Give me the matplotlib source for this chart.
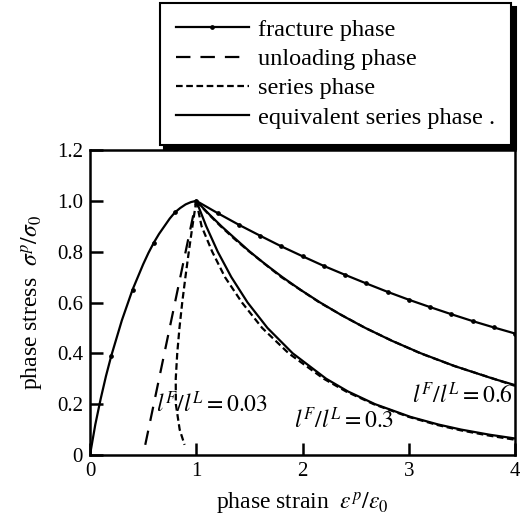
import matplotlib
matplotlib.use("Agg")
import matplotlib.pyplot as plt
from matplotlib.lines import Line2D

plt.rcParams['font.family'] = ['Liberation Serif', 'DejaVu Serif']
plt.rcParams['mathtext.fontset'] = 'stix'

# ---- data ----
rise_x = [0, 0.05, 0.1, 0.15, 0.2, 0.25, 0.3, 0.35, 0.4, 0.45, 0.5, 0.55, 0.6,
          0.65, 0.7, 0.75, 0.8, 0.85, 0.9, 0.95]
rise_y = [0, 0.12, 0.22, 0.31, 0.39, 0.46, 0.53, 0.59, 0.65, 0.70, 0.75, 0.795,
          0.835, 0.87, 0.90, 0.93, 0.955, 0.972, 0.986, 0.995]
soft_x = [1.0, 1.2, 1.4, 1.6, 1.8, 2.0, 2.2, 2.4, 2.6, 2.8, 3.0, 3.2, 3.4, 3.6,
          3.8, 4.0]
soft_y = [1.0, 0.952, 0.906, 0.863, 0.821, 0.782, 0.744, 0.709, 0.675, 0.642,
          0.611, 0.582, 0.554, 0.527, 0.502, 0.478]
frac_x = rise_x + soft_x
frac_y = rise_y + soft_y
frac_mark_x = [0.2, 0.4, 0.6, 0.8, 1.0, 1.2, 1.4, 1.6, 1.8, 2.0, 2.2, 2.4, 2.6,
               2.8, 3.0, 3.2, 3.4, 3.6, 3.8, 4.0]

unload_x = [0.52, 1.0]
unload_y = [0.04, 1.0]

ser003_x = [1.0, 0.964, 0.930, 0.898, 0.868, 0.842, 0.821, 0.807, 0.808, 0.844, 0.89]
ser003_y = [1.0, 0.9, 0.8, 0.7, 0.6, 0.5, 0.4, 0.3, 0.2, 0.1, 0.04]

eq06_x = [1.0, 1.115, 1.237, 1.37, 1.504, 1.652, 1.81, 1.981, 2.166, 2.368, 2.591,
          2.838, 3.115, 3.431, 3.796, 4.0]
eq06_y = [1.0, 0.95, 0.9, 0.85, 0.8, 0.75, 0.7, 0.65, 0.6, 0.55, 0.5,
          0.45, 0.4, 0.35, 0.3, 0.275]
ser06_x = [1.0, 1.11, 1.23, 1.36, 1.50, 1.65, 1.80, 1.98, 2.16, 2.37, 2.59,
           2.84, 3.11, 3.43, 3.80, 4.0]
ser06_y = [1.0, 0.95, 0.9, 0.85, 0.8, 0.75, 0.7, 0.65, 0.6, 0.55, 0.5,
           0.45, 0.4, 0.35, 0.3, 0.272]

eq03_x = [1.0, 1.094, 1.202, 1.33, 1.483, 1.67, 1.908, 2.223, 2.428, 2.683,
          3.016, 3.278, 3.493, 3.758, 4.0]
eq03_y = [1.0, 0.9, 0.8, 0.7, 0.6, 0.5, 0.4, 0.3, 0.25, 0.2,
          0.15, 0.12, 0.1, 0.08, 0.065]
ser03_x = [1.0, 1.05, 1.15, 1.27, 1.43, 1.62, 1.87, 2.20, 2.41, 2.67,
           3.0, 3.27, 3.49, 3.76, 4.0]
ser03_y = [1.0, 0.9, 0.8, 0.7, 0.6, 0.5, 0.4, 0.3, 0.25, 0.2,
           0.15, 0.118, 0.097, 0.076, 0.06]

xticks = [0, 1, 2, 3, 4]
xticklabels = ['0', '1', '2', '3', '4']
yticks = [0, 0.2, 0.4, 0.6, 0.8, 1.0, 1.2]
yticklabels = ['0', '0.2', '0.4', '0.6', '0.8', '1.0', '1.2']

legend_labels = ['fracture phase', 'unloading phase', 'series phase',
                 'equivalent series phase .']
ratio_labels = [r'$l^F/l^L = 0.03$', r'$l^F/l^L = 0.3$', r'$l^F/l^L = 0.6$']

# ---- figure ----
W, H = 520, 526
fig = plt.figure(figsize=(W / 100, H / 100), dpi=100)
ax = fig.add_axes([90 / W, 1 - 455 / H, 425 / W, 305 / H])

lw = 1.6
short_dash = (0, (3.0, 1.6))
long_dash = (0, (6.5, 4.5))

ax.plot(frac_x, frac_y, color='black', lw=lw, zorder=3)
mark_y = [frac_y[frac_x.index(x)] for x in frac_mark_x]
ax.plot(frac_mark_x, mark_y, ls='none', marker='o', ms=2.4, color='black', zorder=4)

ax.plot(unload_x, unload_y, color='black', lw=lw, ls=long_dash)
ax.plot(ser003_x, ser003_y, color='black', lw=lw, ls=short_dash)

ax.plot(eq06_x, eq06_y, color='black', lw=lw)
ax.plot(ser06_x, ser06_y, color='black', lw=lw, ls=short_dash)
ax.plot(eq03_x, eq03_y, color='black', lw=lw)
ax.plot(ser03_x, ser03_y, color='black', lw=lw, ls=short_dash)

ax.text(0.62, 0.2, ratio_labels[0], fontsize=17, va='center', ha='left')
ax.text(1.92, 0.137, ratio_labels[1], fontsize=17, va='center', ha='left')
ax.text(3.03, 0.235, ratio_labels[2], fontsize=17, va='center', ha='left')

ax.set_xlim(0, 4)
ax.set_ylim(0, 1.2)
ax.set_xticks(xticks)
ax.set_xticklabels(xticklabels)
ax.set_yticks(yticks)
ax.set_yticklabels(yticklabels)
ax.tick_params(direction='in', length=9, width=1.8, labelsize=15, pad=5)
for s in ax.spines.values():
    s.set_linewidth(1.8)

ax.set_xlabel(r'phase strain  $\varepsilon^p/\varepsilon_0$', fontsize=17, labelpad=7)
ax.set_ylabel(r'phase stress  $\sigma^p/\sigma_0$', fontsize=17, labelpad=8)

handles = [
    Line2D([0, 0.5, 1], [0, 0, 0], color='black', lw=lw, marker='o', ms=2.4,
           markevery=[1]),
    Line2D([], [], color='black', lw=lw, ls=long_dash),
    Line2D([], [], color='black', lw=lw, ls=short_dash),
    Line2D([], [], color='black', lw=lw),
]

leg = fig.legend(handles, legend_labels, loc='upper left',
                 bbox_to_anchor=(160 / W, 1 - 3 / H), borderaxespad=0,
                 fontsize=17.5,
                 handlelength=3.0, handletextpad=0.4, labelspacing=0.3,
                 borderpad=0.65, fancybox=False, framealpha=1,
                 edgecolor='black',
                 shadow={'ox': 3, 'oy': -3, 'facecolor': 'black',
                         'edgecolor': 'black', 'alpha': 1})
leg.get_frame().set_linewidth(1.5)

fig.savefig('out.png', dpi=100)
